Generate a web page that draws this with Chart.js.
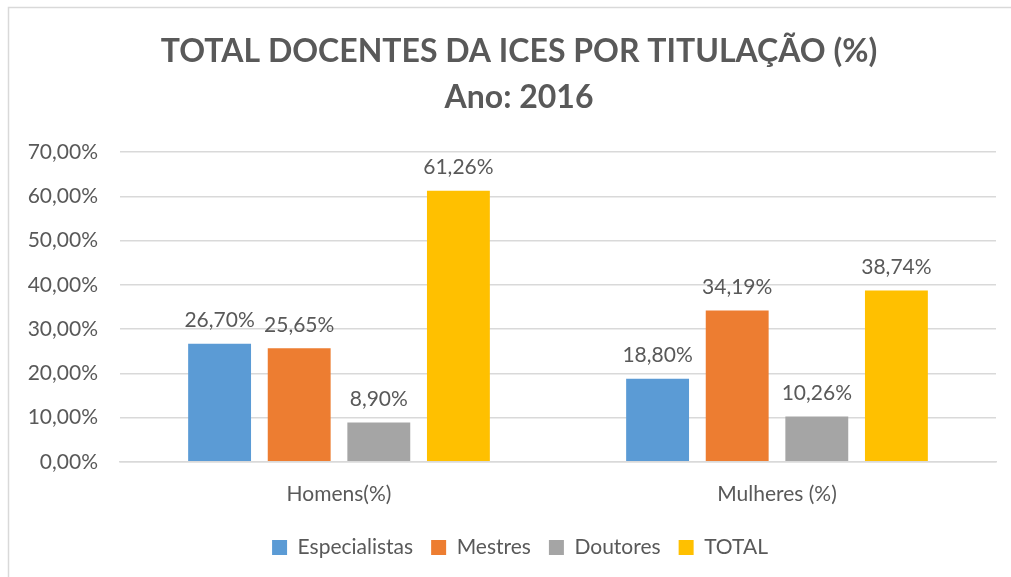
<!DOCTYPE html>
<html>
<head>
<meta charset="utf-8">
<script src="https://cdn.jsdelivr.net/npm/chart.js@4.4.1/dist/chart.umd.min.js"></script>
<style>
  body { margin: 0; background: #fff; }
</style>
</head>
<body>
<canvas id="grafico" width="1011" height="577"></canvas>
<script>
// dados
const categorias = ['Homens(%)', 'Mulheres (%)'];
const especialistas = [26.70, 18.80];
const mestres = [25.65, 34.19];
const doutores = [8.90, 10.26];
const total = [61.26, 38.74];

const corTexto = '#595959';
const fonte = 'Lato, "Open Sans", sans-serif';

function fmt(v) {
  return v.toFixed(2).replace('.', ',') + '%';
}

// moldura cinza em volta do gráfico (como no Excel)
const moldura = {
  id: 'moldura',
  beforeDraw(chart) {
    const c = chart.ctx;
    c.save();
    c.fillStyle = '#fff';
    c.fillRect(0, 0, chart.width, chart.height);
    c.strokeStyle = '#D9D9D9';
    c.lineWidth = 1.5;
    c.strokeRect(8.5, 7.5, chart.width + 20, chart.height + 20);
    c.restore();
  },
  // no original o título e a legenda ficam um pouco à direita
  afterLayout(chart) {
    if (chart.titleBlock) chart.titleBlock.left += 22;
    if (chart.legend) chart.legend.left += 24;
  }
};

// rótulos de valor em cima das barras
const rotulos = {
  id: 'rotulos',
  afterDatasetsDraw(chart) {
    const c = chart.ctx;
    c.save();
    c.font = '21px ' + fonte;
    c.fillStyle = corTexto;
    c.textAlign = 'center';
    c.textBaseline = 'bottom';
    chart.data.datasets.forEach((ds, i) => {
      chart.getDatasetMeta(i).data.forEach((bar, j) => {
        c.fillText(fmt(ds.data[j]), bar.x, bar.y - 13);
      });
    });
    c.restore();
  }
};

new Chart(document.getElementById('grafico'), {
  type: 'bar',
  data: {
    labels: categorias,
    datasets: [
      { label: 'Especialistas', data: especialistas, backgroundColor: '#5B9BD5' },
      { label: 'Mestres', data: mestres, backgroundColor: '#ED7D31' },
      { label: 'Doutores', data: doutores, backgroundColor: '#A5A5A5' },
      { label: 'TOTAL', data: total, backgroundColor: '#FFC000' }
    ]
  },
  options: {
    responsive: false,
    animation: false,
    categoryPercentage: 0.727,
    barPercentage: 0.79,
    layout: { padding: { left: 20, right: 15, top: 7, bottom: 9 } },
    plugins: {
      title: {
        display: true,
        text: ['TOTAL DOCENTES DA ICES POR TITULAÇÃO (%)', 'Ano: 2016'],
        color: corTexto,
        font: { family: fonte, size: 32, weight: 'bold', lineHeight: 1.44 },
        padding: { top: 22, bottom: 31 }
      },
      legend: {
        position: 'bottom',
        labels: {
          color: corTexto,
          font: { family: fonte, size: 21 },
          boxWidth: 15,
          boxHeight: 15,
          padding: 18
        }
      },
      tooltip: { enabled: false }
    },
    scales: {
      x: {
        grid: { display: false },
        border: { color: '#D9D9D9', width: 1.5 },
        ticks: { color: corTexto, font: { family: fonte, size: 21 }, padding: 12 }
      },
      y: {
        min: 0,
        max: 70,
        afterFit: (s) => { s.width = 100; },
        ticks: {
          stepSize: 10,
          color: corTexto,
          font: { family: fonte, size: 21 },
          padding: 22,
          callback: (v) => fmt(v)
        },
        grid: { color: '#D9D9D9', lineWidth: 1.5, drawTicks: false },
        border: { display: false }
      }
    }
  },
  plugins: [moldura, rotulos]
});
</script>
</body>
</html>
